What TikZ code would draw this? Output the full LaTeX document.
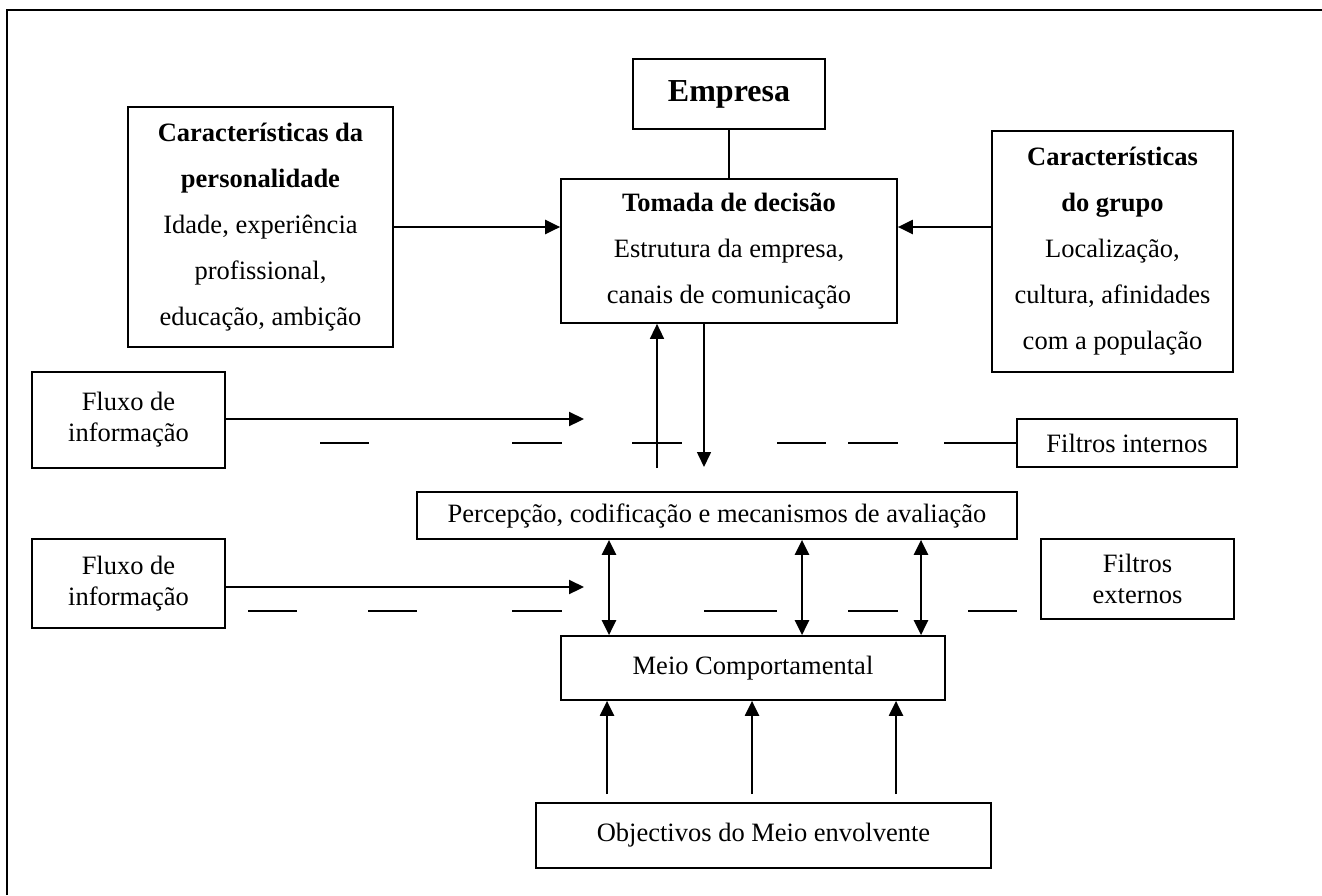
\documentclass[tikz,border=0pt]{standalone}
\usepackage{fontspec}
\setmainfont{Liberation Serif}
\usetikzlibrary{arrows.meta}
\begin{document}
\begin{tikzpicture}[x=1pt,y=-1pt,
  box/.style={draw,line width=1.7pt,inner sep=0pt,align=center,
    font=\fontsize{26.5}{46}\selectfont},
  smallbox/.style={box,font=\fontsize{26.5}{31}\selectfont},
  arr/.style={line width=2.2pt,-{Triangle[length=15pt,width=14pt]}},
  thinarr/.style={line width=1.6pt,-{Triangle[length=15pt,width=14pt]}},
  dbl/.style={line width=2.6pt,{Triangle[length=15pt,width=14pt]}-{Triangle[length=15pt,width=14pt]}},
  filt/.style={line width=1.4pt},
  frame/.style={line width=2pt}]
\useasboundingbox (0,0) rectangle (1322,895);
% frame
\draw[frame] (7,895) -- (7,10) -- (1322,10);
% boxes
\node[box,minimum width=192pt,minimum height=70pt,font=\fontsize{32}{38}\selectfont\bfseries] (emp) at (729,94) {Empresa};
\node[box,minimum width=336pt,minimum height=144pt] (tom) at (729,251)
  {\textbf{Tomada de decisão}\\Estrutura da empresa,\\canais de comunicação};
\node[box,minimum width=265pt,minimum height=240pt] (pers) at (260.5,227)
  {\textbf{Características da}\\\textbf{personalidade}\\Idade, experiência\\profissional,\\educação, ambição};
\node[box,minimum width=241pt,minimum height=241pt] (grp) at (1112.5,251.5)
  {\textbf{Características}\\\textbf{do grupo}\\Localização,\\cultura, afinidades\\com a população};
\node[smallbox,minimum width=193pt,minimum height=96pt] (fl1) at (128.5,420) {Fluxo de\\informação};
\node[smallbox,minimum width=193pt,minimum height=89pt] (fl2) at (128.5,583.5) {Fluxo de\\informação};
\node[smallbox,minimum width=220pt,minimum height=48pt] (fi) at (1127,443) {Filtros internos};
\node[smallbox,minimum width=600pt,minimum height=47pt] (perc) at (717,515.5) {Percepção, codificação e mecanismos de avaliação};
\node[smallbox,minimum width=193pt,minimum height=80pt] (fe) at (1137.5,579) {Filtros\\externos};
\node[smallbox,minimum width=384pt,minimum height=64pt] (meio) at (753,668) {Meio Comportamental};
\node[smallbox,minimum width=455pt,minimum height=65pt] (obj) at (763.5,835.5) {Objectivos do Meio envolvente};
% coordinates
\coordinate (f1end) at (584,419);
\coordinate (f2end) at (584,587);
\coordinate (upA) at (657,468);
\coordinate (dnA) at (704,467);
\coordinate (d1) at (609,0);
\coordinate (d2) at (802,0);
\coordinate (d3) at (921,0);
\coordinate (u1) at (607,794);
\coordinate (u2) at (752,794);
\coordinate (u3) at (896,794);
% connectors
\draw[line width=1.6pt] (emp.south) -- (tom.north);
\draw[arr] (pers.east) -- (pers.east -| tom.west);
\draw[arr] (grp.west |- pers.east) -- (tom.east |- pers.east);
\draw[arr] (fl1.east |- f1end) -- (f1end);
\draw[arr] (fl2.east |- f2end) -- (f2end);
\draw[thinarr] (upA) -- (upA |- tom.south);
\draw[thinarr] (dnA |- tom.south) -- (dnA);
\draw[dbl] (perc.south -| d1) -- (meio.north -| d1);
\draw[dbl] (perc.south -| d2) -- (meio.north -| d2);
\draw[dbl] (perc.south -| d3) -- (meio.north -| d3);
\draw[arr] (u1) -- (u1 |- meio.south);
\draw[arr] (u2) -- (u2 |- meio.south);
\draw[arr] (u3) -- (u3 |- meio.south);
% filter lines (internal)
\draw[filt] (320,443) -- (369,443) (512,443) -- (562,443) (632,443) -- (682,443)
  (777,443) -- (826,443) (848,443) -- (898,443) (944,443) -- (fi.west);
% filter lines (external)
\draw[filt] (248,611) -- (297,611) (368,611) -- (417,611) (512,611) -- (562,611)
  (704,611) -- (777,611) (848,611) -- (898,611) (968,611) -- (1017,611);
\end{tikzpicture}
\end{document}
